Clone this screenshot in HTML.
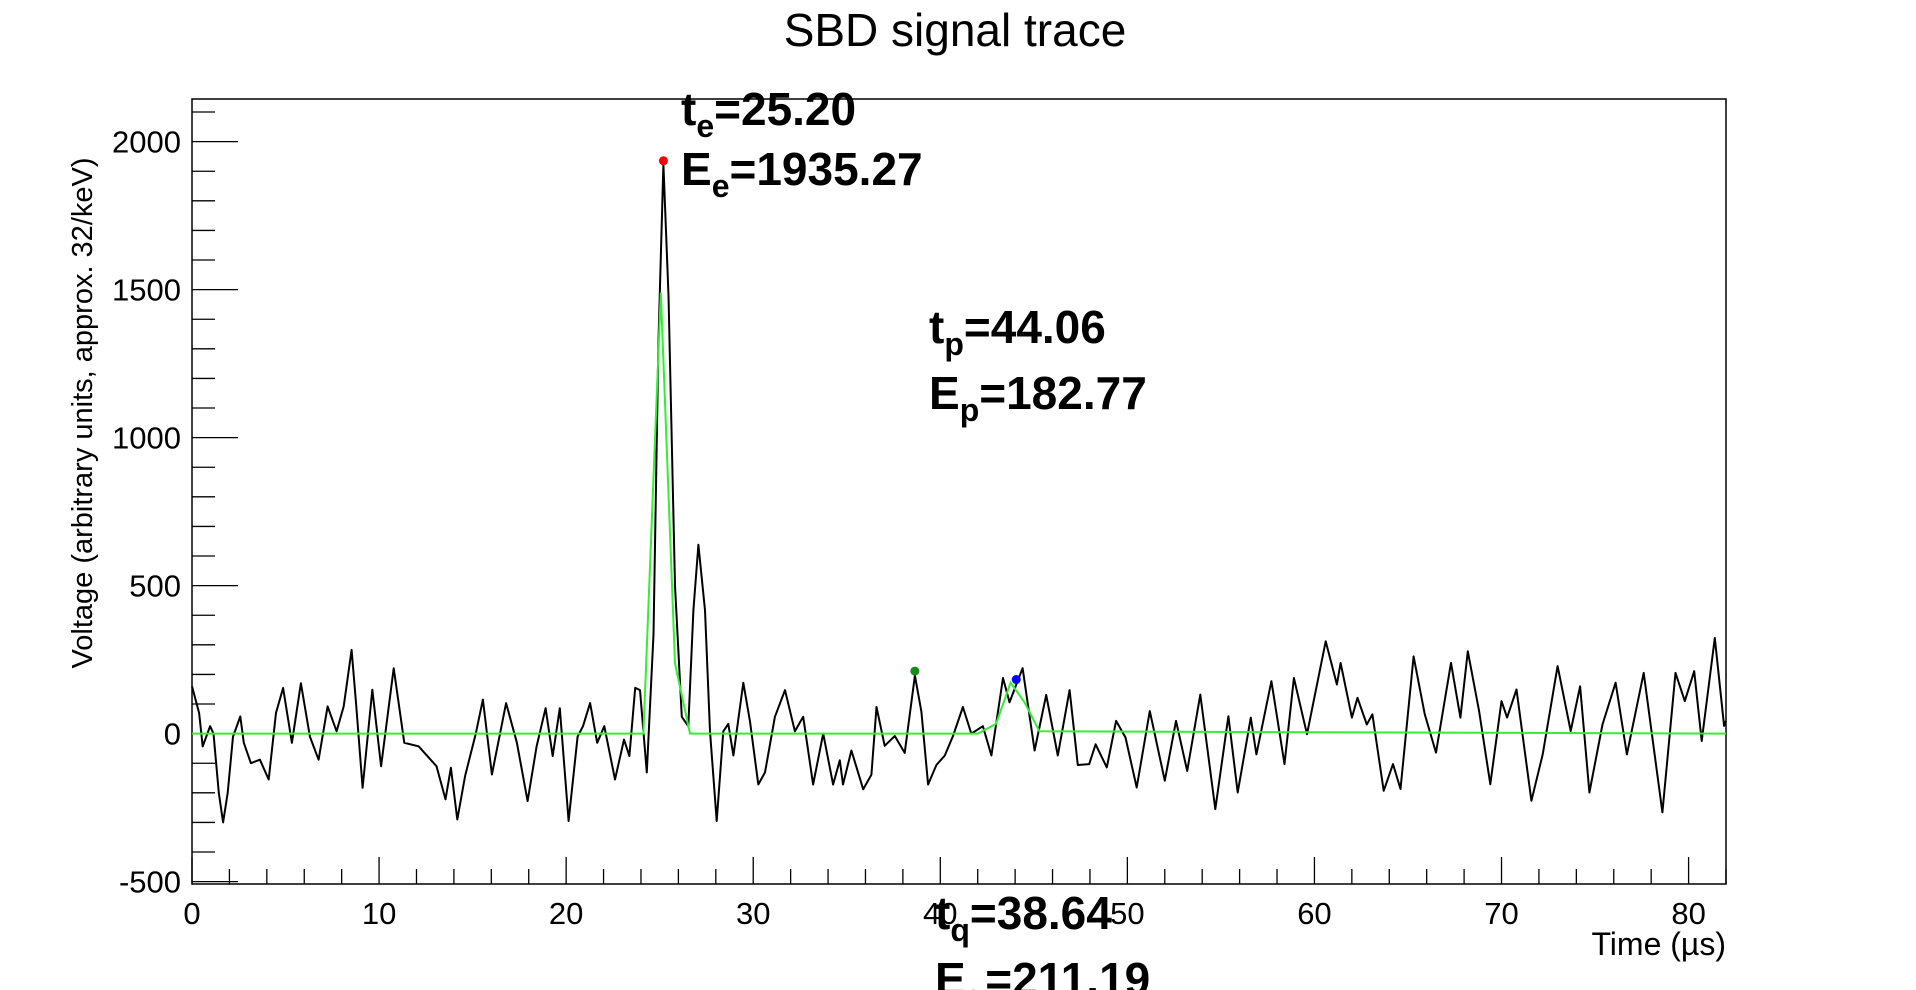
<!DOCTYPE html>
<html><head><meta charset="utf-8"><style>
html,body{margin:0;padding:0;background:#fff;overflow:hidden}
svg{display:block;font-family:"Liberation Sans",sans-serif}
</style></head><body>
<svg id="chart" width="1916" height="990" viewBox="0 0 1916 990" xmlns="http://www.w3.org/2000/svg">
<rect width="1916" height="990" fill="#fff"/>
<text x="955" y="46" font-size="46" text-anchor="middle">SBD signal trace</text>
<g id="axes"></g>
<g id="series"></g>
<g id="labels">
<text x="681" y="125" font-size="46" font-weight="bold">t<tspan font-size="32" dy="12">e</tspan><tspan dy="-12">=25.20</tspan></text>
<text x="681" y="185" font-size="46" font-weight="bold">E<tspan font-size="32" dy="12">e</tspan><tspan dy="-12">=1935.27</tspan></text>
<text x="929" y="343" font-size="46" font-weight="bold">t<tspan font-size="32" dy="12">p</tspan><tspan dy="-12">=44.06</tspan></text>
<text x="929" y="409" font-size="46" font-weight="bold">E<tspan font-size="32" dy="12">p</tspan><tspan dy="-12">=182.77</tspan></text>
<text x="935" y="929" font-size="46" font-weight="bold">t<tspan font-size="32" dy="12">q</tspan><tspan dy="-12">=38.64</tspan></text>
<text x="935" y="995" font-size="46" font-weight="bold">E<tspan font-size="32" dy="12">q</tspan><tspan dy="-12">=211.19</tspan></text>
</g>
</svg>
<script>
const traceT=[0,0.38,0.57,0.97,1.15,1.43,1.66,1.91,2.19,2.58,2.77,3.15,3.63,4.1,4.49,4.87,5.34,5.82,6.3,6.77,7.25,7.73,8.11,8.53,8.78,9.12,9.64,10.11,10.78,11.35,12.12,13.07,13.55,13.84,14.18,14.6,15.17,15.55,16.03,16.79,17.37,17.94,18.42,18.9,19.28,19.66,20.13,20.61,20.9,21.28,21.66,22.04,22.61,23.09,23.38,23.69,23.95,24.31,24.67,24.93,25.2,25.47,25.82,26.18,26.53,26.8,27.07,27.42,27.69,28.05,28.4,28.67,28.94,29.47,29.83,30.27,30.63,31.16,31.7,32.23,32.67,33.2,33.74,34.27,34.63,34.8,35.25,35.88,36.32,36.59,37.03,37.57,38.1,38.64,38.99,39.35,39.79,40.24,40.68,41.21,41.66,42.28,42.73,43.35,43.7,44.4,45.04,45.66,46.28,46.91,47.35,47.96,48.3,48.9,49.4,49.9,50.5,51.2,52.0,52.6,53.2,53.9,54.7,55.4,55.9,56.6,56.9,57.7,58.4,58.9,59.6,60.6,61.2,61.4,62.0,62.3,62.8,63.1,63.7,64.2,64.6,65.3,65.9,66.5,67.3,67.8,68.2,68.8,69.4,70.0,70.3,70.8,71.6,72.2,73.0,73.7,74.2,74.7,75.4,76.1,76.7,77.6,78.6,79.3,79.8,80.3,80.7,81.4,81.9,82.0];
const traceV=[160,70,-43,25,0,-200,-300,-200,-10,58,-31,-100,-88,-155,70,154,-31,170,-10,-88,92,8,92,283,92,-183,148,-110,221,-31,-43,-110,-222,-115,-290,-143,0,115,-138,103,-31,-228,-43,86,-76,86,-295,-10,25,103,-31,25,-155,-20,-76,155,147,-131,335,1318,1924,1481,500,57,25,417,638,417,8,-295,8,33,-74,172,41,-172,-131,57,147,8,57,-172,0,-172,-90,-172,-57,-188,-139,90,-41,-8,-65,196,74,-172,-106,-74,-8,90,0,25,-74,188,106,221,-57,131,-74,147,-106,-103,-36,-114,43,-13,-182,76,-159,43,-126,132,-255,59,-199,54,-70,177,-103,188,-2,312,166,239,54,121,31,65,-193,-103,-187,261,65,-64,239,54,278,76,-171,110,54,149,-227,-70,228,9,160,-199,31,172,-70,205,-266,205,110,211,-25,323,26,43];
const fitT=[0,24.13,25.06,25.82,26.62,42.0,42.98,43.76,44.5,45.3,82];
const fitV=[0,0,1490,237,0,0,33,172,106,8,0];
const markerT=[25.2,38.64,44.06];
const markerV=[1935.27,211.19,182.77];
const markerColors=['#ff0000','#1a8a1a','#0000ff'];
const yTickVals=[-500,0,500,1000,1500,2000];
const yTickLabels=['-500','0','500','1000','1500','2000'];
const xTickVals=[0,10,20,30,40,50,60,70,80];
const xTickLabels=['0','10','20','30','40','50','60','70','80'];

const L=192,R=1726,T=99,B=884,XMIN=0,XMAX=82,YMIN=-508,YMAX=2144;
const NS='http://www.w3.org/2000/svg';
function xs(t){return L+(t-XMIN)/(XMAX-XMIN)*(R-L);}
function ys(v){return B-(v-YMIN)/(YMAX-YMIN)*(B-T);}
function mk(tag,attrs,parent){const e=document.createElementNS(NS,tag);for(const k in attrs)e.setAttribute(k,attrs[k]);parent.appendChild(e);return e;}
const axes=document.getElementById('axes'),series=document.getElementById('series');
const frame=mk('rect',{x:L,y:T,width:R-L,height:B-T,fill:'none',stroke:'#000','stroke-width':1.5},axes);


for(let v=-500;v<=2100;v+=100){
  const y=ys(v);if(y<T||y>B)continue;
  const major=(v%500===0);
  const tk=mk('line',{x1:L,x2:L+(major?46:23),y1:y,y2:y,stroke:'#000','stroke-width':1.3},axes);
  
  
}
yTickVals.forEach((v,i)=>{
  const tx=mk('text',{x:181,y:ys(v)+11,'font-size':31,'text-anchor':'end'},axes);
  tx.textContent=yTickLabels[i];
  
  
});
for(let t=0;t<=82;t+=2){
  const x=xs(t);
  const major=(t%10===0);
  const tk=mk('line',{x1:x,x2:x,y1:B,y2:B-(major?27:15),stroke:'#000','stroke-width':1.3},axes);
  
  
}
xTickVals.forEach((t,i)=>{
  const tx=mk('text',{x:xs(t),y:924,'font-size':31,'text-anchor':'middle'},axes);
  tx.textContent=xTickLabels[i];
  
  
});
const xt=mk('text',{x:R,y:955,'font-size':32,'text-anchor':'end'},axes);
xt.textContent='Time (\u00b5s)';


const yt=mk('text',{x:0,y:0,'font-size':29,'text-anchor':'middle',transform:'translate(92,413) rotate(-90)'},axes);
yt.textContent='Voltage (arbitrary units, approx. 32/keV)';


const tp=traceT.map((t,i)=>xs(t).toFixed(1)+','+ys(traceV[i]).toFixed(1)).join(' ');
const trace=mk('polyline',{points:tp,fill:'none',stroke:'#000','stroke-width':2,'stroke-linejoin':'round'},series);


const fp=fitT.map((t,i)=>xs(t).toFixed(1)+','+ys(fitV[i]).toFixed(1)).join(' ');
const fit=mk('polyline',{points:fp,fill:'none',stroke:'#33ee33','stroke-width':2},series);


markerT.forEach((t,i)=>{
  const c=mk('circle',{cx:xs(t),cy:ys(markerV[i]),r:4.5,fill:markerColors[i]},series);
  
  
});
</script>
</body></html>
